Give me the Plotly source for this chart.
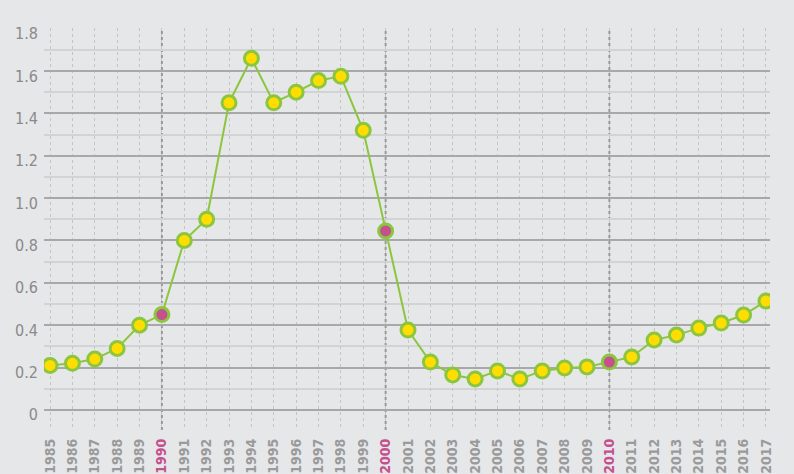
import plotly.graph_objects as go

years = list(range(1985, 2018))
values = [0.21, 0.22, 0.24, 0.29, 0.40, 0.45, 0.80, 0.90, 1.45, 1.66,
          1.45, 1.50, 1.555, 1.575, 1.32, 0.845, 0.377, 0.226, 0.165, 0.146,
          0.184, 0.146, 0.184, 0.198, 0.203, 0.226, 0.25, 0.33, 0.353, 0.386,
          0.41, 0.448, 0.514]
decades = [1990, 2000, 2010]
y_ticks = [0, 0.2, 0.4, 0.6, 0.8, 1.0, 1.2, 1.4, 1.6, 1.8]
y_labels = ["0", "0.2", "0.4", "0.6", "0.8", "1.0", "1.2", "1.4", "1.6", "1.8"]

GREEN = "#8cc63f"
YELLOW = "#ffdd00"
MAGENTA = "#c4508e"
BG = "#e6e7e9"
FONT = "Liberation Sans Narrow, DejaVu Sans Condensed, Roboto, sans-serif"

fill_colors = [MAGENTA if y in decades else YELLOW for y in years]
x_text = [
    f"<b><span style='color:{MAGENTA}'>{y}</span></b>" if y in decades else f"<b>{y}</b>"
    for y in years
]

fig = go.Figure()
fig.add_trace(go.Scatter(
    x=years, y=values, mode="lines+markers",
    line=dict(color=GREEN, width=2),
    marker=dict(size=14, color=fill_colors, line=dict(color=GREEN, width=3)),
    hoverinfo="x+y", showlegend=False,
))

shapes = []
for d in decades:
    shapes.append(dict(type="line", xref="x", yref="paper", x0=d, x1=d, y0=0, y1=1,
                       line=dict(color="#9a9a9a", width=2, dash="dot"), layer="between"))

fig.update_layout(
    width=794, height=474,
    margin=dict(l=44, r=24, t=28, b=44),
    paper_bgcolor=BG, plot_bgcolor=BG,
    shapes=shapes,
    font=dict(family=FONT),
    xaxis=dict(
        range=[1984.73, 2017.18], automargin=False,
        tickmode="array", tickvals=years, ticktext=x_text,
        tickangle=-90, showgrid=True, gridcolor="#c4c4c4", gridwidth=1, griddash="dot",
        zeroline=False, showline=False, ticks="",
        tickfont=dict(size=14, color="#9a9a9a", family=FONT),
        ticklabelstandoff=5, fixedrange=True,
    ),
    yaxis=dict(
        range=[-0.095, 1.803], automargin=False,
        tickmode="array", tickvals=y_ticks, ticktext=y_labels,
        showgrid=True, gridcolor="#a8a8a8", gridwidth=2,
        zeroline=False, showline=False, ticks="",
        tickfont=dict(size=16, color="#8a8a8a", family=FONT),
        ticklabelshift=5, ticklabelstandoff=5,
        minor=dict(tick0=0.1, dtick=0.2, showgrid=True, gridcolor="#d2d3d5", gridwidth=2),
        fixedrange=True,
    ),
)

fig.write_html("out.html", config={"displayModeBar": False},
               post_script="document.body.style.margin='0';document.body.style.background='%s';" % BG)
